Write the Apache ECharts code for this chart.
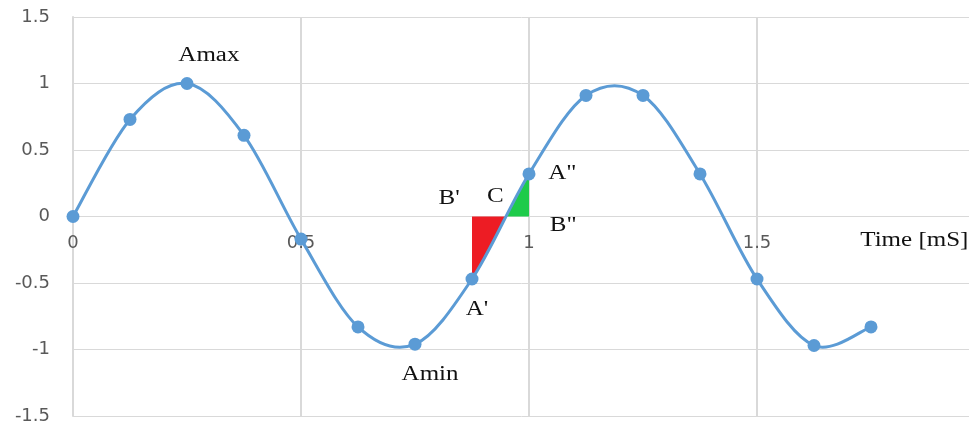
<!DOCTYPE html>
<html>
<head>
<meta charset="utf-8">
<script src="https://cdn.jsdelivr.net/npm/echarts@6/dist/echarts.min.js"></script>
<style>
  html, body { margin: 0; padding: 0; background: #fff; }
  #chart { width: 969px; height: 426px; }
</style>
</head>
<body>
<div id="chart"></div>
<script>
// Sampled signal: time in ms and amplitude
const times = [0, 0.125, 0.25, 0.375, 0.5, 0.625, 0.75, 0.875, 1.0, 1.125, 1.25, 1.375, 1.5, 1.625, 1.75];
const amplitude = [0, 0.73, 1.0, 0.61, -0.17, -0.83, -0.96, -0.47, 0.32, 0.91, 0.91, 0.32, -0.47, -0.97, -0.83];

// Axis ticks
const xTicks = [0, 0.5, 1, 1.5, 2];
const yTicks = [-1.5, -1, -0.5, 0, 0.5, 1, 1.5];

// Triangles around the zero crossing between A' and A''
const zeroCross = 0.95;
const redTriangle = [[0.875, 0], [zeroCross, 0], [0.875, -0.47]];
const greenTriangle = [[zeroCross, 0], [1.0, 0], [1.0, 0.32]];

// Annotation texts and their anchor points (axis units)
const noteTexts = ['Amax', 'Amin', "A'", "B'", 'C', 'A"', 'B"', 'Time [mS]'];
const noteX = [0.298, 0.783, 0.886, 0.825, 0.926, 1.073, 1.075, 1.845];
const noteY = [1.21, -1.19, -0.70, 0.13, 0.15, 0.32, -0.07, -0.18];

const chart = echarts.init(document.getElementById('chart'), null, { renderer: 'canvas' });

const gridColor = '#d9d9d9';
const lineColor = '#5b9bd5';
const labelFont = 'DejaVu Sans';
const points = times.map((t, i) => [t, amplitude[i]]);

const gridTop = 17;
const gridBottom = 10;
const plotHeight = 426 - gridTop - gridBottom;
// the time axis sits on the zero line, halfway up the symmetric amplitude range
const zeroOffset = -plotHeight * (0 - yTicks[0]) / (yTicks[yTicks.length - 1] - yTicks[0]);

function triangleSeries(pts, color) {
  return {
    type: 'custom',
    data: pts,
    z: 3,
    silent: true,
    renderItem: function (params, api) {
      if (params.dataIndex !== 0) return null;
      return {
        type: 'polygon',
        shape: { points: pts.map(p => api.coord(p)) },
        style: { fill: color, stroke: null }
      };
    }
  };
}

// Smooth curve through the samples (Catmull-Rom style cubic segments)
const curveSeries = {
  type: 'custom',
  data: points,
  z: 4,
  silent: true,
  renderItem: function (params, api) {
    if (params.dataIndex !== 0) return null;
    const px = points.map(p => api.coord(p));
    const n = px.length;
    const segs = [];
    for (let i = 0; i < n - 1; i++) {
      const p0 = px[Math.max(i - 1, 0)];
      const p1 = px[i];
      const p2 = px[i + 1];
      const p3 = px[Math.min(i + 2, n - 1)];
      segs.push({
        type: 'bezierCurve',
        shape: {
          x1: p1[0], y1: p1[1],
          cpx1: p1[0] + (p2[0] - p0[0]) / 6, cpy1: p1[1] + (p2[1] - p0[1]) / 6,
          cpx2: p2[0] - (p3[0] - p1[0]) / 6, cpy2: p2[1] - (p3[1] - p1[1]) / 6,
          x2: p2[0], y2: p2[1]
        },
        style: { stroke: lineColor, lineWidth: 3, fill: null, lineCap: 'round' }
      });
    }
    return { type: 'group', children: segs };
  }
};

const option = {
  animation: false,
  backgroundColor: '#fff',
  grid: { left: 73, right: -16, top: gridTop, bottom: gridBottom, containLabel: false, outerBoundsMode: 'none' },
  xAxis: {
    type: 'value',
    position: 'bottom',
    offset: zeroOffset,
    min: xTicks[0],
    max: xTicks[xTicks.length - 1],
    interval: 0.5,
    axisLine: { onZero: false, lineStyle: { color: gridColor, width: 1 } },
    axisTick: { show: false },
    axisLabel: {
      margin: 18,
      color: '#595959',
      fontFamily: labelFont,
      fontSize: 18,
      formatter: v => String(v)
    },
    splitLine: { show: true, lineStyle: { color: gridColor, width: 2 } }
  },
  yAxis: {
    type: 'value',
    min: yTicks[0],
    max: yTicks[yTicks.length - 1],
    interval: 0.5,
    axisLine: { show: true, onZero: false, lineStyle: { color: gridColor, width: 2 } },
    axisTick: { show: false },
    axisLabel: {
      margin: 23,
      color: '#595959',
      fontFamily: labelFont,
      fontSize: 18,
      formatter: v => String(v)
    },
    splitLine: { show: true, lineStyle: { color: gridColor, width: 1 } }
  },
  series: [
    triangleSeries(redTriangle, '#ed1c24'),
    triangleSeries(greenTriangle, '#1ecb4a'),
    curveSeries,
    {
      type: 'scatter',
      data: points,
      symbol: 'circle',
      symbolSize: 13,
      z: 5,
      itemStyle: { color: lineColor, opacity: 1 }
    }
  ]
};

chart.setOption(option);

// Serif annotations, slightly widened
const notes = noteTexts.map((txt, i) => {
  const p = chart.convertToPixel({ gridIndex: 0 }, [noteX[i], noteY[i]]);
  return {
    type: 'text',
    x: p[0],
    y: p[1],
    scaleX: 1.25,
    z: 10,
    style: {
      text: txt,
      x: 0,
      y: 0,
      align: 'center',
      verticalAlign: 'middle',
      fill: '#111',
      font: '20px "Liberation Serif"'
    }
  };
});
chart.setOption({ graphic: notes });
</script>
</body>
</html>
